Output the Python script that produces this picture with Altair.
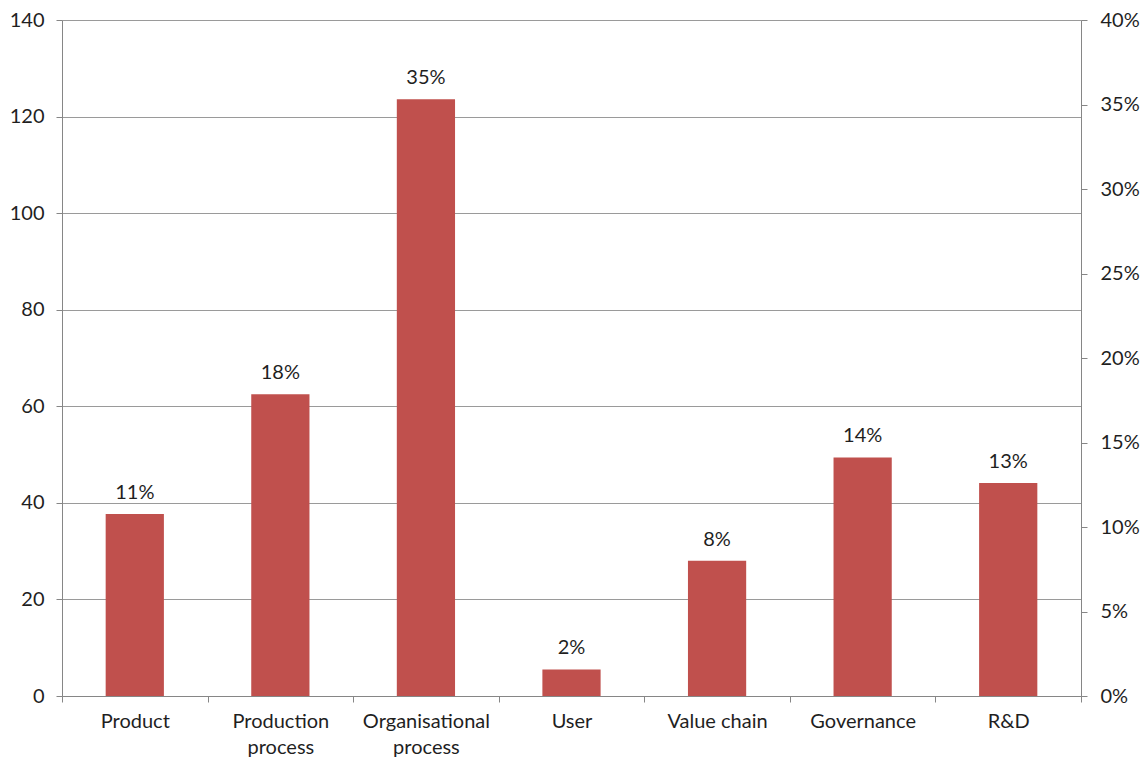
import altair as alt
import pandas as pd

categories = ["Product", "Production process", "Organisational process", "User",
              "Value chain", "Governance", "R&D"]
values = [37.7, 62.5, 123.6, 5.5, 28.0, 49.4, 44.1]
left_ticks = [0, 20, 40, 60, 80, 100, 120, 140]
right_ticks = [0, 0.05, 0.10, 0.15, 0.20, 0.25, 0.30, 0.35, 0.40]

total = sum(values)
df = pd.DataFrame({"cat": categories, "value": values,
                   "pct": [v / total for v in values]})

FONT = "Lato"
FS = 20
GRAY = "#868686"
TXT = "#1f1f1f"

x_enc = alt.X(
    "cat:N", sort=categories, title=None,
    scale=alt.Scale(paddingInner=0, paddingOuter=0),
    axis=alt.Axis(
        tickBand="extent", labelAngle=0, grid=False, tickSize=6,
        labelPadding=9, labelFontSize=FS, labelFont=FONT, labelColor=TXT,
        labelLineHeight=26, domainColor=GRAY, tickColor=GRAY,
        labelExpr="(datum.label == 'Production process' || datum.label == 'Organisational process') ? split(datum.label, ' ') : datum.label",
    ),
)

yscale = alt.Scale(domain=[0, 140], nice=False)

bars = alt.Chart(df).mark_bar(color="#C0504D", width=alt.RelativeBandSize(0.4)).encode(
    x=x_enc,
    y=alt.Y("value:Q", title=None, scale=yscale,
            axis=alt.Axis(values=left_ticks, grid=True, gridColor="#9a9a9a",
                          domainColor=GRAY, tickColor=GRAY, tickSize=6,
                          labelPadding=12, labelFontSize=FS, labelFont=FONT,
                          labelColor=TXT)),
)

labels = alt.Chart(df).mark_text(dy=-15, baseline="alphabetic", fontSize=FS,
                                 font=FONT, color=TXT).encode(
    x=x_enc,
    y=alt.Y("value:Q", scale=yscale),
    text=alt.Text("pct:Q", format=".0%"),
)

right = alt.Chart(df).mark_point(opacity=0).encode(
    x=x_enc,
    y=alt.Y("pct:Q", title=None, scale=alt.Scale(domain=[0, 0.4], nice=False),
            axis=alt.Axis(orient="right", values=right_ticks, format=".0%",
                          grid=False, domainColor=GRAY, tickColor=GRAY,
                          tickSize=6, labelPadding=13, labelFontSize=FS,
                          labelFont=FONT, labelColor=TXT)),
)

chart = alt.layer(alt.layer(bars, labels), right).resolve_scale(
    y="independent"
).properties(
    width=1019, height=676,
    autosize=alt.AutoSizeParams(type="none"),
    padding={"left": 62, "top": 20, "right": 65, "bottom": 64},
).configure_view(stroke=None).configure(background="white")

chart.save("out.html", embed_options={"renderer": "svg", "actions": False})
